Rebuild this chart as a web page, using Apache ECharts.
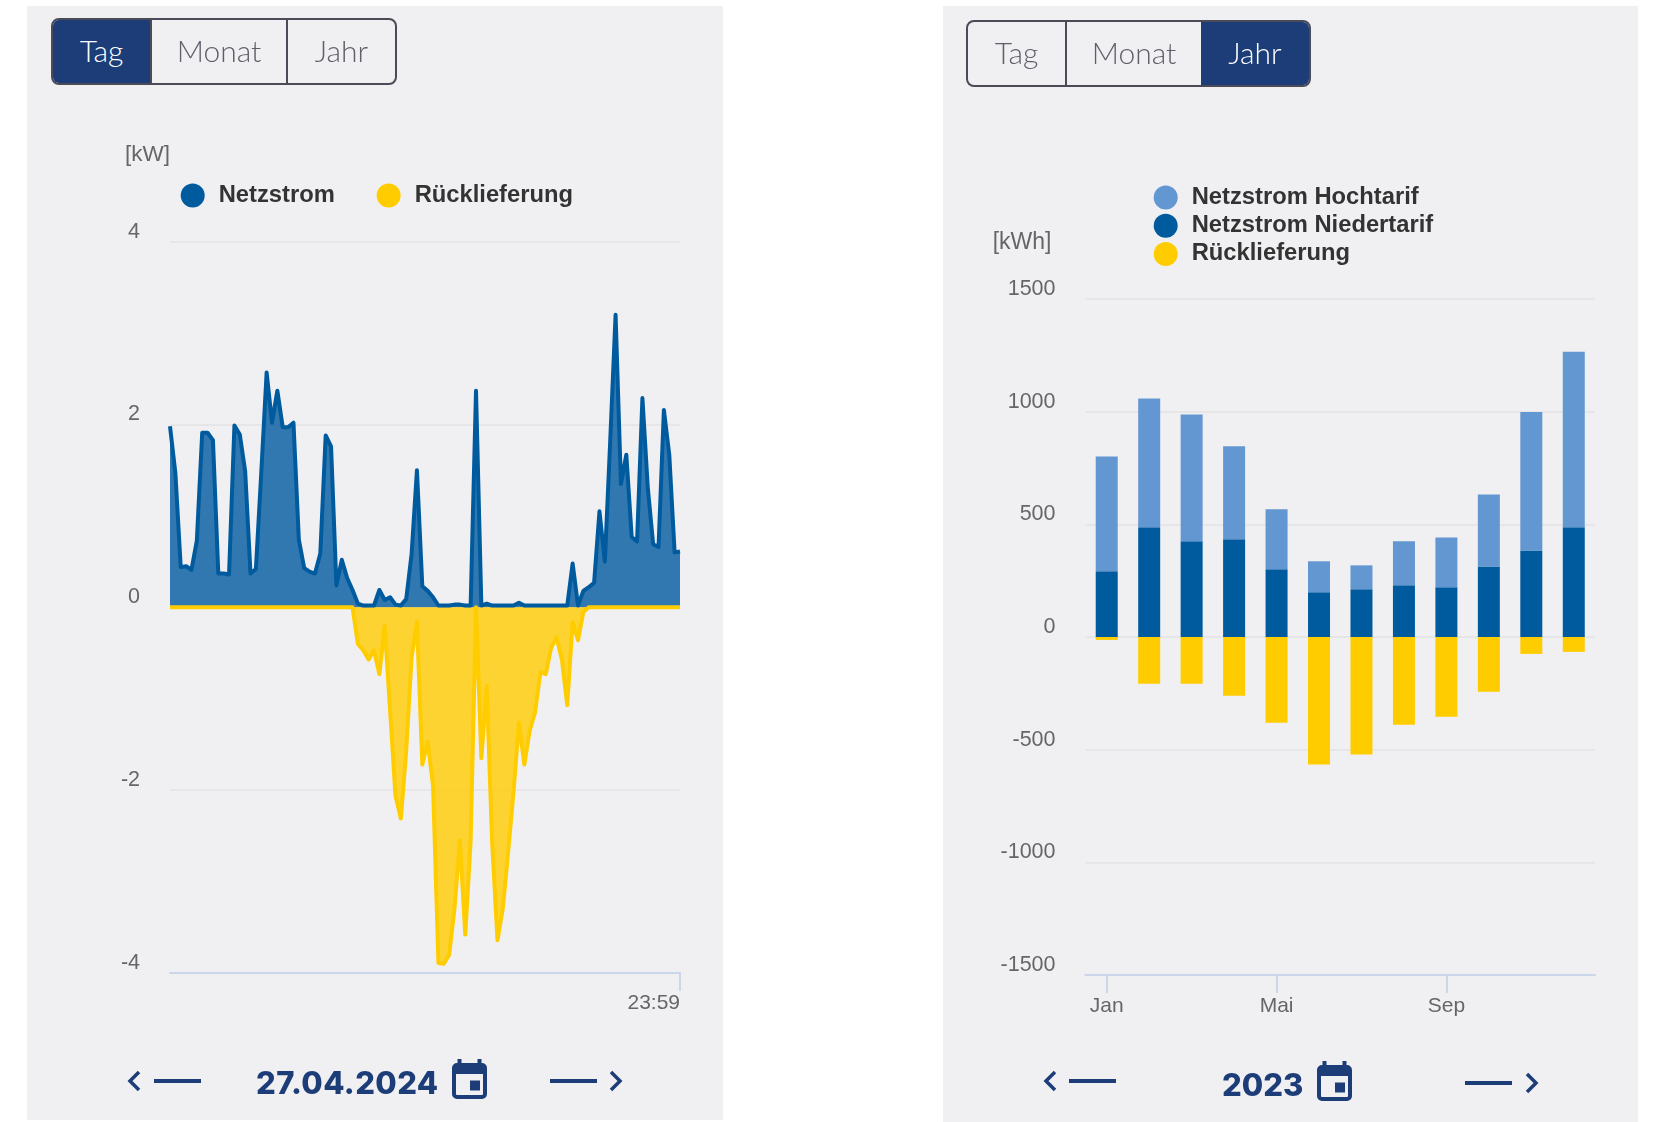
<!DOCTYPE html>
<html>
<head>
<meta charset="utf-8">
<title>Netzstrom</title>
<script src="https://cdn.jsdelivr.net/npm/echarts@6/dist/echarts.min.js"></script>
<style>
	html, body { margin: 0; padding: 0; background: #fff; }
	body { position: relative; width: 1665px; height: 1122px; overflow: hidden; }
	.panel { position: absolute; background: #f0f0f3; }
	.btns { position: absolute; box-sizing: border-box; border: 2px solid #4b4b57; border-radius: 8px; overflow: hidden; font: 300 30px Lato, sans-serif; color: #5f5f69; }
	.btns div { position: absolute; top: 0; bottom: 0; box-sizing: border-box; text-align: center; line-height: 61px; border-left: 2px solid #4b4b57; }
	.btns div:first-child { border-left: 0; }
	.btns .on { background: #1c3d78; color: #fff; border-left: 0; }
	.date { position: absolute; font: 800 31px Inter, sans-serif; color: #1c3d78; white-space: nowrap; line-height: 40px; }
	svg.nav { position: absolute; left: 0; top: 0; pointer-events: none; }
</style>
</head>
<body>
<div class="panel" id="dayPanel" style="left:27px;top:6px;width:696px;height:1114px"></div>
<div class="panel" id="yearPanel" style="left:943px;top:6px;width:695px;height:1116px"></div>

<div class="btns" style="left:51px;top:18px;width:346px;height:67px">
	<div class="on" style="left:0;width:97px">Tag</div>
	<div style="left:97px;width:136px">Monat</div>
	<div style="left:233px;right:0">Jahr</div>
</div>
<div class="btns" style="left:966px;top:20px;width:345px;height:67px">
	<div style="left:0;width:97px">Tag</div>
	<div style="left:97px;width:136px">Monat</div>
	<div class="on" style="left:233px;right:0">Jahr</div>
</div>

<div class="date" style="left:256px;top:1063px;letter-spacing:0.4px">27.04.2024</div>
<div class="date" style="left:1222px;top:1065px">2023</div>
<svg class="nav" id="navIcons" width="1665" height="1122"></svg>

<script>
// Tagesansicht 27.04.2024, Viertelstundenwerte [kW]
var netzstrom = [
	1.98, 1.47, 0.44, 0.45, 0.41, 0.73, 1.91, 1.91, 1.83, 0.37,
	0.37, 0.36, 1.99, 1.89, 1.49, 0.37, 0.42, 1.47, 2.57, 2.02,
	2.37, 1.97, 1.97, 2.02, 0.74, 0.43, 0.39, 0.37, 0.59, 1.88,
	1.76, 0.24, 0.52, 0.32, 0.19, 0.04, 0.02, 0.02, 0.02, 0.19,
	0.08, 0.11, 0.03, 0.02, 0.09, 0.58, 1.50, 0.23, 0.18, 0.11,
	0.02, 0.02, 0.02, 0.03, 0.03, 0.02, 0.02, 2.37, 0.02, 0.04,
	0.02, 0.02, 0.02, 0.02, 0.02, 0.05, 0.02, 0.02, 0.02, 0.02,
	0.02, 0.02, 0.02, 0.02, 0.02, 0.48, 0.02, 0.18, 0.22, 0.27,
	1.05, 0.50, 1.82, 3.20, 1.35, 1.67, 0.77, 0.72, 2.29, 1.31,
	0.69, 0.66, 2.16, 1.67, 0.60, 0.61
];
var ruecklieferungTag = [
	0, 0, 0, 0, 0, 0, 0, 0, 0, 0,
	0, 0, 0, 0, 0, 0, 0, 0, 0, 0,
	0, 0, 0, 0, 0, 0, 0, 0, 0, 0,
	0, 0, 0, 0, 0, -0.40, -0.47, -0.57, -0.47, -0.73,
	-0.20, -1.13, -2.06, -2.31, -1.57, -0.55, -0.16, -1.72, -1.47, -1.95,
	-3.89, -3.90, -3.80, -3.29, -2.55, -3.58, -2.56, 0, -1.65, -0.86,
	-2.56, -3.64, -3.29, -2.67, -2.01, -1.26, -1.72, -1.35, -1.15, -0.71,
	-0.73, -0.44, -0.33, -0.57, -1.07, -0.16, -0.36, -0.05, 0, 0,
	0, 0, 0, 0, 0, 0, 0, 0, 0, 0,
	0, 0, 0, 0, 0, 0
];
var zeiten = [];
for (var h = 0; h < 24; h++) {
	for (var m = 0; m < 60; m += 15) {
		zeiten.push((h < 10 ? '0' : '') + h + ':' + (m < 10 ? '0' : '') + m);
	}
}
zeiten[95] = '23:59';

// Jahresansicht 2023 [kWh]
var monate = ['Jan', 'Feb', 'Mär', 'Apr', 'Mai', 'Jun', 'Jul', 'Aug', 'Sep', 'Okt', 'Nov', 'Dez'];
var niedertarif = [292, 487, 425, 434, 301, 199, 212, 230, 221, 313, 384, 487];
var hochtarif = [509, 571, 562, 412, 266, 137, 106, 195, 221, 319, 615, 779];
var ruecklieferungJahr = [-13, -208, -208, -261, -381, -566, -522, -389, -354, -243, -75, -66];

var BLAU = '#005a9e', HELLBLAU = '#6297d1', GELB = '#ffcc00';
var LINIE = '#e6e6e8', ACHSE = '#ccd6eb', TEXT = '#666666';

function yAchse(name, min, max, step, nameGap, namePad, nameSize) {
	return {
		type: 'value', min: min, max: max, interval: step,
		name: name, nameLocation: 'end', nameGap: nameGap,
		nameTextStyle: { color: TEXT, fontFamily: 'Liberation Sans', fontSize: nameSize, align: 'right', verticalAlign: 'middle', padding: [0, namePad, 0, 0] },
		axisLine: { show: false }, axisTick: { show: false },
		axisLabel: { color: TEXT, fontFamily: 'Liberation Sans', fontSize: 21.5, lineHeight: 20, margin: 30, align: 'right', verticalAlign: 'bottom', formatter: function(v) { return String(v); } },
		splitLine: { show: true, lineStyle: { color: LINIE, width: 2 } }
	};
}

function xAchse(cats, gap, labelInterval, tickInterval, align, labelMargin) {
	return {
		type: 'category', data: cats, boundaryGap: gap,
		axisLine: { onZero: false, lineStyle: { color: ACHSE, width: 2 } },
		axisTick: { show: true, alignWithLabel: true, interval: tickInterval, length: 18, lineStyle: { color: ACHSE, width: 2 } },
		axisLabel: { color: TEXT, fontFamily: 'Liberation Sans', fontSize: 21, margin: labelMargin, interval: labelInterval, align: align, hideOverlap: false }
	};
}

function flaeche(name, data, color) {
	return {
		name: name, type: 'line', data: data, color: color, symbol: 'none', animation: false,
		lineStyle: { color: color, width: 4, cap: 'butt', join: 'round' },
		areaStyle: { color: color, opacity: 0.8 }
	};
}

function balken(name, data, color) {
	return { name: name, type: 'bar', stack: 'jahr', data: data, color: color, barWidth: 22, animation: false, itemStyle: { color: color } };
}

var legendText = { color: '#333333', fontFamily: 'Liberation Sans', fontSize: 23.75, fontWeight: 'bold', padding: [8, 0, 0, 9] };

var dayChart = echarts.init(document.getElementById('dayPanel'), null, { renderer: 'canvas' });
dayChart.setOption({
	backgroundColor: 'transparent',
	animation: false,
	grid: { left: 143, top: 235.7, width: 510, height: 731.3 },
	legend: {
		left: 148.7, top: 172.5, icon: 'circle', itemWidth: 24, itemHeight: 24, itemGap: 41.8,
		textStyle: legendText, data: ['Netzstrom', 'Rücklieferung']
	},
	xAxis: xAchse(zeiten, false, function(i) { return i === 95; }, function(i) { return i === 95; }, 'right', 20),
	yAxis: yAchse('[kW]', -4, 4, 2, 86.7, 0, 22.5),
	series: [
		flaeche('Netzstrom', netzstrom, BLAU),
		flaeche('Rücklieferung', ruecklieferungTag, GELB)
	]
});

var yearChart = echarts.init(document.getElementById('yearPanel'), null, { renderer: 'canvas' });
yearChart.setOption({
	backgroundColor: 'transparent',
	animation: false,
	grid: { left: 142.5, top: 293, width: 509.5, height: 676 },
	legend: {
		left: 205.7, top: 174.5, orient: 'vertical', icon: 'circle', itemWidth: 24, itemHeight: 24, itemGap: 4.2,
		textStyle: legendText, data: ['Netzstrom Hochtarif', 'Netzstrom Niedertarif', 'Rücklieferung']
	},
	xAxis: xAchse(monate, true, 3, 3, 'center', 21),
	yAxis: yAchse('[kWh]', -1500, 1500, 500, 56, 34, 23),
	series: [
		balken('Netzstrom Niedertarif', niedertarif, BLAU),
		balken('Netzstrom Hochtarif', hochtarif, HELLBLAU),
		balken('Rücklieferung', ruecklieferungJahr, GELB)
	]
});

// Pfeile und Kalender unter den Diagrammen
function navSvg(cl, ll, lr, cr, yl, yr, calX, calY) {
	var c = '#1c3d78', s = '';
	s += '<polyline points="' + (cl + 11) + ',' + (yl - 9) + ' ' + (cl + 2) + ',' + yl + ' ' + (cl + 11) + ',' + (yl + 9) + '" fill="none" stroke="' + c + '" stroke-width="3.5"/>';
	s += '<rect x="' + ll + '" y="' + (yl - 2) + '" width="47" height="4" fill="' + c + '"/>';
	s += '<rect x="' + lr + '" y="' + (yr - 2) + '" width="47" height="4" fill="' + c + '"/>';
	s += '<polyline points="' + (cr + 1) + ',' + (yr - 9) + ' ' + (cr + 10) + ',' + yr + ' ' + (cr + 1) + ',' + (yr + 9) + '" fill="none" stroke="' + c + '" stroke-width="3.5"/>';
	s += '<g transform="translate(' + calX + ',' + calY + ')" fill="' + c + '">' +
		'<rect x="5.5" y="0" width="4" height="6"/><rect x="25.5" y="0" width="4" height="6"/>' +
		'<rect x="2" y="6" width="31" height="32" rx="3" fill="none" stroke="' + c + '" stroke-width="4"/>' +
		'<rect x="2" y="5" width="31" height="10"/>' +
		'<rect x="18" y="21.5" width="10" height="10"/></g>';
	return s;
}
document.getElementById('navIcons').innerHTML =
	navSvg(128, 154, 550, 610, 1081, 1081, 452, 1059) +
	navSvg(1044, 1069, 1465, 1526, 1081, 1083, 1317, 1061);
</script>
</body>
</html>
